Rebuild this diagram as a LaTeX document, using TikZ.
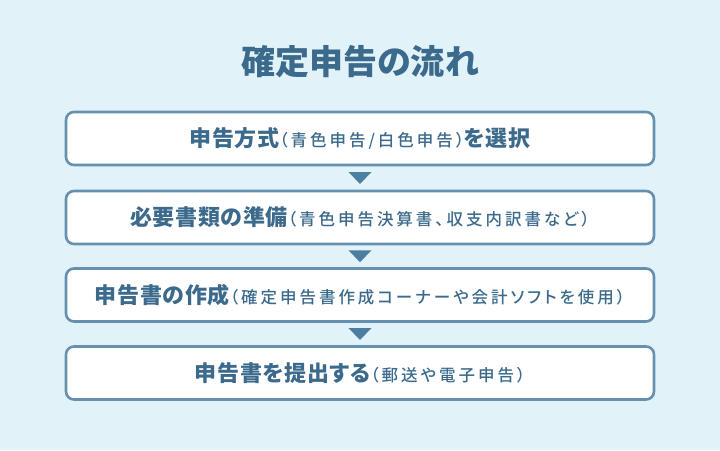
\documentclass[tikz,border=0pt]{standalone}
\usepackage{fontspec}
\setmainfont{Noto Sans CJK JP}[RawFeature=+palt]
\newfontfamily\notefont{Noto Sans CJK JP Medium}[RawFeature=+palt,LetterSpace=18]
\usetikzlibrary{calc}
\definecolor{bgblue}{HTML}{E1F3F9}
\definecolor{inkblue}{HTML}{3C6A8C}
\definecolor{lineblue}{HTML}{6690AF}
\definecolor{markblue}{HTML}{4C7EA2}
\newcommand{\mainpart}[1]{{\fontsize{22}{26}\selectfont\bfseries\addfontfeature{LetterSpace=3}#1}}
\newcommand{\notepart}[1]{{\notefont\fontsize{16.5}{20}\selectfont #1}}
\begin{document}
\begin{tikzpicture}
[x=1pt,y=-1pt,
  stepbox/.style={shape=rectangle,draw=lineblue,line width=2.6pt,fill=white,
    rounded corners=8pt,minimum width=588pt,minimum height=53pt,
    inner sep=0pt,text=inkblue},%
  titletext/.style={text=inkblue,font=\fontsize{34}{40}\selectfont\bfseries},%
  downmark/.style={fill=markblue}]
%% background and frame
\fill[bgblue] (0,0) rectangle (720,450);
\useasboundingbox (0,0) rectangle (720,450);
%% title
\node (title) at (360,62) [titletext] {確定申告の流れ};
%% steps
\node (s1) at (360,138.5) [stepbox]
  {\mainpart{申告方式}\notepart{（青色申告/白色申告）}\mainpart{を選択}};
\node (s2) at (360,217.5) [stepbox]
  {\mainpart{必要書類の準備}\notepart{（青色申告決算書、収支内訳書など）}};
\node (s3) at (360,295) [stepbox]
  {\mainpart{申告書の作成}\notepart{（確定申告書作成コーナーや会計ソフトを使用）}};
\node (s4) at (360,373) [stepbox]
  {\mainpart{申告書を提出する}\notepart{（郵送や電子申告）}};
%% triangles between steps
\foreach \upper/\lower in {s1/s2, s2/s3, s3/s4} {
  \coordinate (m\upper) at ($(\upper.south)!0.5!(\lower.north)$);
  \fill[downmark] (m\upper) ++(-11.5,-6) -- ++(23,0) -- ++(-11.5,12) -- cycle;
}
\end{tikzpicture}
\end{document}
